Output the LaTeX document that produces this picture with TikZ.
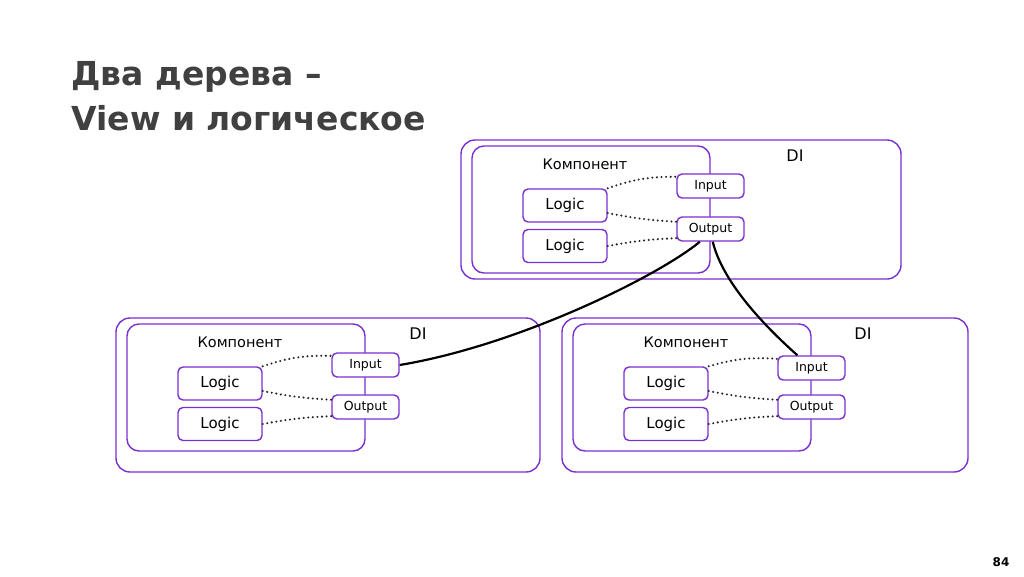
\documentclass[tikz,border=0pt]{standalone}
\usepackage{fontspec}
\setmainfont{DejaVu Sans}
\usetikzlibrary{positioning}
\definecolor{dipurple}{RGB}{122,48,208}
\definecolor{titlegray}{RGB}{64,64,64}

\begin{document}
\begin{tikzpicture}
    [
        x=1pt, y=-1pt,
        dibox/.style={draw=dipurple, line width=1.4pt, rounded corners=14pt},
        compbox/.style={draw=dipurple, line width=1.4pt, rounded corners=12pt},
        logicbox/.style={draw=dipurple, line width=1.4pt, fill=white, rounded corners=5pt,
            minimum width=84pt, minimum height=33pt, inner sep=0pt, font=\fontsize{15}{15}\selectfont},
        portbox/.style={draw=dipurple, line width=1.4pt, fill=white, rounded corners=5pt,
            minimum width=67pt, minimum height=24pt, inner sep=0pt, font=\fontsize{12.5}{12.5}\selectfont},
        link/.style={black!85, line width=2.3pt, line cap=round, dash pattern=on 0pt off 4.6pt},
        wire/.style={black, line width=2.2pt}
    ]
    \useasboundingbox (0,0) rectangle (1024,576);

    \node[anchor=base west, text=titlegray, font=\fontsize{33}{33}\selectfont\bfseries] (title1) at (68,85) {Два дерева –};
    \node[anchor=base west, text=titlegray, font=\fontsize{33}{33}\selectfont\bfseries] (title2) at (68,130) {View и логическое};
    \node[text=black, font=\fontsize{12}{12}\selectfont\bfseries] (page) at (1001,562.5) {84};

    % DI / Компонент groups
    \foreach \n/\x/\y/\w/\h/\d/\p in {t/461/140/440/139/334/40, l/116/318/424/154/302/41, r/562/318/406/154/301/44}
    {
        \draw[dibox] (\x,\y) rectangle ++(\w,\h);
        \draw[compbox] ({\x+11},{\y+6}) rectangle ++(238,127);
        \node[font=\fontsize{16}{16}\selectfont] (di\n) at ({\x+\d},{\y+16}) {DI};
        \node[font=\fontsize{14.5}{14.5}\selectfont] (comp\n) at ({\x+124},{\y+24}) {Компонент};
        \node[logicbox] (lgA\n) at ({\x+104},{\y+65.5}) {Logic};
        \node[logicbox] (lgB\n) at ({\x+104},{\y+106}) {Logic};
        \node[portbox] (in\n) at ({\x+249.5},{\y+6+\p}) {Input};
        \node[portbox] (out\n) at ({\x+249.5},{\y+89}) {Output};

        \draw[link] (lgA\n.north east) to[bend left=10] (in\n.165);
        \draw[link] (lgA\n.-10) to[bend right=4] (out\n.168);
        \draw[link] (lgB\n.east) to[bend left=4] (out\n.-165);
    }

    \draw[wire] (outt.-130) .. controls (660,275) and (520,345) .. (inl.east);
    \draw[wire] (outt.-80) .. controls (722,280) and (760,322) .. (inr.138);
\end{tikzpicture}
\end{document}
